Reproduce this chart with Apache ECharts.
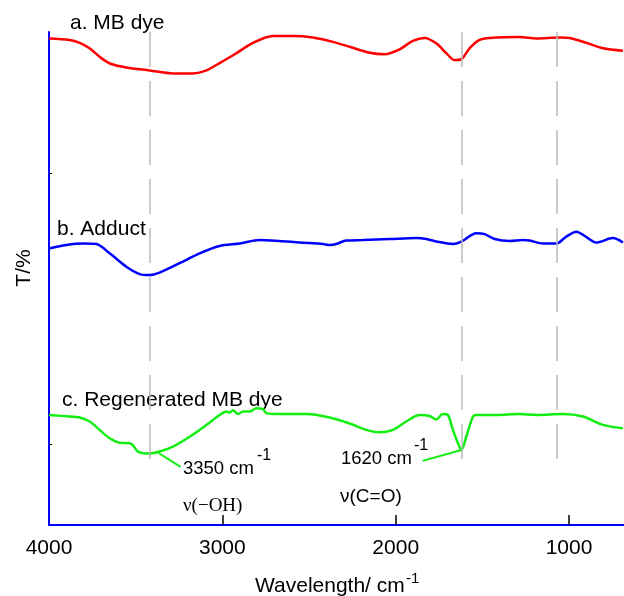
<!DOCTYPE html>
<html>
<head>
<meta charset="utf-8">
<script src="https://cdn.jsdelivr.net/npm/echarts@6/dist/echarts.min.js"></script>
<style>
  html, body { margin: 0; padding: 0; background: #fff; }
  #chart { width: 624px; height: 596px; }
</style>
</head>
<body>
<div id="chart"></div>
<script>
// FTIR spectra, [wavenumber cm-1, T (arbitrary, 0-100)]
var mbDye = [
  [4000, 98.7], [3881, 98.4], [3823, 97.8], [3766, 96.7], [3698, 94.7], [3641, 93.5],
  [3554, 92.8], [3420, 92.2], [3285, 91.6], [3170, 91.6], [3092, 92.2], [3016, 93.7],
  [2919, 95.7], [2824, 97.8], [2708, 99.2], [2593, 99.2], [2478, 98.9], [2362, 98.0],
  [2266, 97.0], [2150, 95.8], [2064, 95.5], [1977, 96.5], [1901, 98.2], [1833, 98.8],
  [1766, 97.7], [1708, 95.7], [1660, 94.3], [1621, 94.5], [1574, 96.7], [1516, 98.4],
  [1458, 98.8], [1285, 99.0], [1189, 98.7], [1054, 98.9], [997, 98.8], [900, 97.8],
  [804, 96.7], [689, 96.2]
];
var adduct = [
  [4000, 56.1], [3900, 56.8], [3804, 57.1], [3727, 57.0], [3650, 55.1], [3554, 52.4],
  [3477, 50.9], [3420, 50.7], [3362, 51.2], [3247, 53.1], [3131, 55.1], [3016, 56.6],
  [2900, 57.1], [2785, 57.8], [2670, 57.6], [2554, 57.3], [2420, 57.0], [2381, 56.8],
  [2343, 57.0], [2285, 57.7], [2189, 57.8], [2035, 58.0], [1881, 58.2], [1823, 58.0],
  [1766, 57.5], [1670, 57.0], [1621, 57.5], [1535, 59.2], [1487, 59.0], [1429, 58.0],
  [1343, 57.6], [1266, 57.8], [1227, 57.7], [1151, 57.1], [1073, 57.1], [1016, 58.5],
  [958, 59.5], [900, 58.4], [843, 57.3], [747, 58.2], [689, 57.3]
];
var regenerated = [
  [4000, 22.3], [3881, 22.0], [3823, 21.8], [3766, 21.0], [3708, 19.3], [3650, 17.6],
  [3593, 16.7], [3535, 16.6], [3516, 16.2], [3487, 14.9], [3420, 14.5], [3362, 14.9],
  [3285, 15.9], [3189, 17.9], [3092, 20.3], [3016, 22.3], [2977, 23.0], [2958, 22.8],
  [2939, 23.3], [2910, 22.5], [2881, 23.0], [2843, 23.0], [2804, 23.7], [2766, 23.5],
  [2746, 22.7], [2670, 22.5], [2516, 22.5], [2381, 21.8], [2266, 20.6], [2170, 19.3],
  [2093, 18.8], [2016, 19.3], [1939, 21.0], [1862, 22.3], [1804, 22.1], [1766, 21.4],
  [1728, 22.5], [1699, 22.3], [1670, 19.3], [1641, 16.6], [1621, 15.2], [1593, 17.9],
  [1554, 22.0], [1535, 22.3], [1420, 22.3], [1285, 22.5], [1189, 22.3], [1035, 22.5],
  [920, 22.0], [804, 20.3], [689, 19.6]
];
var peakLines = [3420, 1620, 1070];
var xTicks = [4000, 3000, 2000, 1000];
var yTicks = [16.4, 71.3];
// leader lines from the peaks to the labels
var leader3350 = [[3368, 14.6], [3241, 11.8]];
var leader1620 = [[1621, 15.2], [1845, 13.0]];

var sans = '"Liberation Sans", Arial, sans-serif';
var serif = '"Liberation Serif", "Times New Roman", serif';

var myChart = echarts.init(document.getElementById('chart'));

function textEl(str, x, y, size, font, rot) {
  return {
    type: 'text', x: x, y: y, rotation: rot || 0,
    style: { text: str, fontSize: size, fontFamily: font || sans, fill: '#000',
             align: rot ? 'center' : 'left', verticalAlign: 'middle' }
  };
}

var option = {
  animation: false,
  backgroundColor: '#fff',
  grid: { left: 49, right: 0, top: 32, bottom: 71 },
  xAxis: {
    type: 'value',
    inverse: true,
    min: 683,
    max: 4000,
    axisLine: { lineStyle: { color: '#0000ff', width: 2 } },
    axisTick: { inside: true, length: 10, customValues: [3000, 2000, 1000],
                lineStyle: { color: '#000', width: 1.5 } },
    axisLabel: {
      customValues: xTicks, fontSize: 21, color: '#000', margin: 13, fontFamily: sans,
      formatter: function (v) { return String(v); }
    },
    splitLine: { show: false }
  },
  yAxis: {
    type: 'value',
    min: 0,
    max: 100,
    axisLine: { show: true, lineStyle: { color: '#0000ff', width: 2 } },
    axisTick: { show: true, inside: true, length: 3, customValues: yTicks,
                lineStyle: { color: '#000', width: 1 } },
    axisLabel: { show: false },
    splitLine: { show: false }
  },
  series: [
    {
      name: 'a. MB dye',
      type: 'line',
      data: mbDye,
      showSymbol: false,
      smooth: 0.3,
      lineStyle: { color: '#ff0000', width: 2.5 },
      markLine: {
        silent: true,
        symbol: 'none',
        label: { show: false },
        lineStyle: { color: '#bbbbbb', width: 1.5, type: [35, 14] },
        data: peakLines.map(function (w) {
          return [{ coord: [w, 100] }, { coord: [w, 12.6] }];
        })
      }
    },
    {
      name: 'b. Adduct',
      type: 'line',
      data: adduct,
      showSymbol: false,
      smooth: 0.3,
      lineStyle: { color: '#0000ff', width: 2.5 }
    },
    {
      name: 'c. Regenerated MB dye',
      type: 'line',
      data: regenerated,
      showSymbol: false,
      smooth: 0.3,
      lineStyle: { color: '#11ee11', width: 2.5 },
      markLine: {
        silent: true,
        symbol: 'none',
        label: { show: false },
        lineStyle: { color: '#11ee11', width: 2, type: 'solid' },
        data: [
          [{ coord: leader3350[0] }, { coord: leader3350[1] }],
          [{ coord: leader1620[0] }, { coord: leader1620[1] }]
        ]
      }
    }
  ],
  graphic: [
    textEl('a. MB dye', 70, 23, 21),
    textEl('b. Adduct', 57, 229, 21),
    textEl('c. Regenerated MB dye', 62, 400, 21),
    textEl('3350 cm', 183, 469, 18.5),
    textEl('-1', 257, 456, 16),
    textEl('1620 cm', 341, 459, 18.5),
    textEl('-1', 414, 446, 16),
    textEl('\u03bd(\u2212OH)', 183, 506, 19, serif),
    textEl('\u03bd(C=O)', 340, 497, 19),
    textEl('Wavelength/ cm', 255, 586, 21),
    textEl('-1', 406, 579, 15),
    textEl('T/%', 24, 268, 21, sans, Math.PI / 2)
  ]
};

myChart.setOption(option);
window.onresize = myChart.resize;
</script>
</body>
</html>
